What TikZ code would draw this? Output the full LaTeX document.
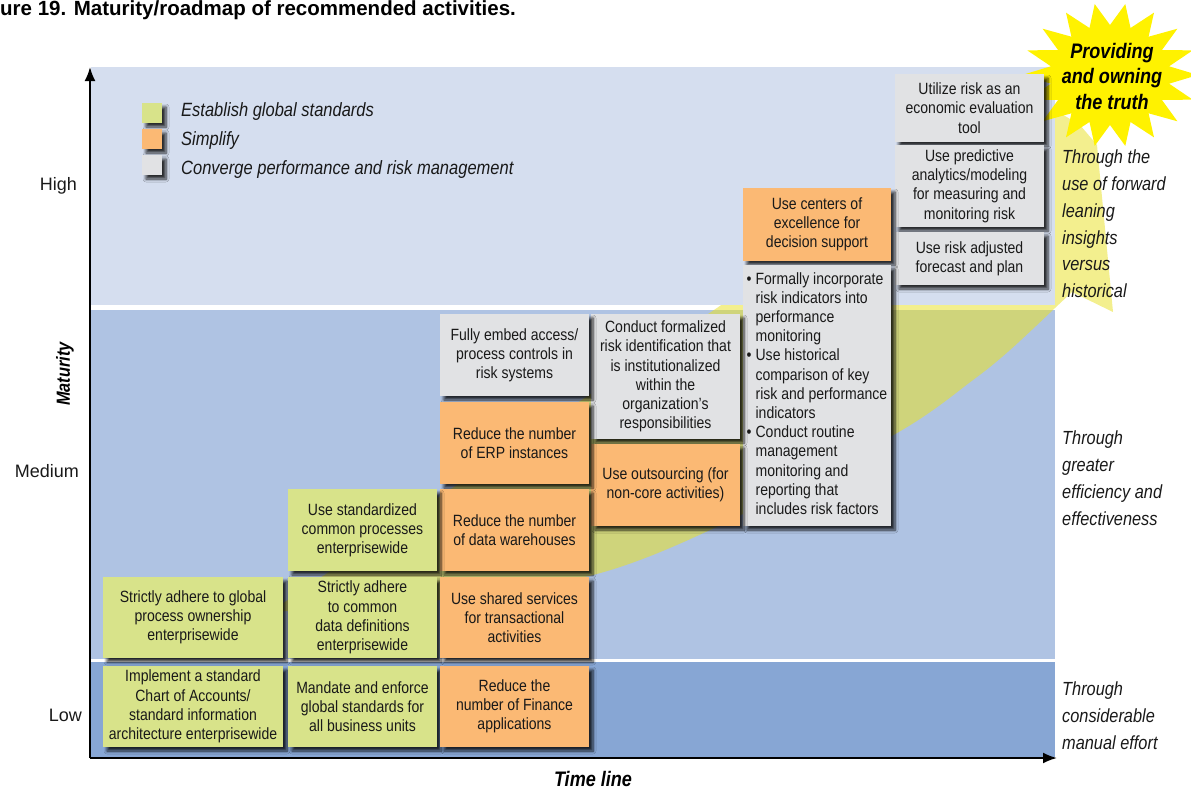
\documentclass[tikz,border=0pt]{standalone}
\usepackage{fontspec}
\setmainfont{Liberation Sans}[FakeStretch=0.86]
\newfontfamily\plainsans{Liberation Sans}
\usetikzlibrary{shadows,shadows.blur,arrows.meta}
\definecolor{bandtop}{HTML}{D5DEEF}
\definecolor{bandmid}{HTML}{AFC3E3}
\definecolor{bandlow}{HTML}{87A6D4}
\definecolor{beamy}{HTML}{F3EF8E}
\definecolor{beamo}{HTML}{CFD47B}
\definecolor{stary}{HTML}{FFF200}
\definecolor{gfill}{HTML}{D8E38A}
\definecolor{ofill}{HTML}{FBB974}
\definecolor{kfill}{HTML}{E1E2E4}
\newcommand\bxfont{\fontsize{16.3}{19.2}\selectfont}
\newcommand\lgfont{\fontsize{19.2}{24}\selectfont\itshape}
\newcommand\rlfont{\fontsize{19}{26.7}\selectfont\itshape}
\newcommand\axfont{\plainsans\fontsize{18}{22}\selectfont}
\newcommand\starfont{\fontsize{21}{25.5}\selectfont\bfseries\itshape}
\tikzset{
  myshadow/.style={blur shadow={shadow xshift=4pt, shadow yshift=-4pt, shadow blur radius=3pt, shadow blur steps=6, shadow opacity=80}},
  box/.style={inner sep=0pt, minimum width=149pt, minimum height=82pt, align=center,
    font=\bxfont, text=black!90, myshadow},
  gbox/.style={box, fill=gfill},
  obox/.style={box, fill=ofill},
  kbox/.style={box, fill=kfill},
  lgsq/.style={inner sep=0pt, minimum size=20pt, myshadow},
  lgtext/.style={anchor=west, inner sep=0pt, font=\lgfont, text=black!90},
  rltext/.style={anchor=north west, inner sep=0pt, align=left, font=\rlfont, text=black!90},
  axlabel/.style={anchor=east, inner sep=0pt, font=\axfont, text=black!90},
  axisline/.style={line width=2pt, -{Latex[length=14pt,width=11pt]}}
}
\begin{document}
\begin{tikzpicture}[x=1pt,y=-1pt]
\useasboundingbox (0,0) rectangle (1191,790);
% light beam
\fill[beamy] (270,612) -- (1030,95) -- (1080,125) -- (1097,145) -- (1113,312) -- (1072,292) -- (1055,308)
  -- plot[smooth] coordinates {(1055,308) (1010,350) (973,380) (897,433) (710,530) (593,575) (440,600) (270,612)} -- cycle;
% bands
\fill[bandtop] (91,67) rectangle (1055,305);
\fill[bandmid] (91,310) rectangle (1055,659);
\begin{scope}
\clip (91,310) rectangle (1055,659);
\fill[beamo] (270,612) -- (1030,95) -- (1080,125) -- (1097,145) -- (1113,312) -- (1072,292) -- (1055,308)
  -- plot[smooth] coordinates {(1055,308) (1010,350) (973,380) (897,433) (710,530) (593,575) (440,600) (270,612)} -- cycle;
\end{scope}
\fill[bandlow] (91,662) rectangle (1055,757);
% star
\fill[stary] (1198,75) \foreach \a in {0,20,...,340}{ -- ({1110+88*cos(\a)},{75+72*sin(\a)}) -- ({1110+60*cos(\a+10)},{75+50*sin(\a+10)}) } -- cycle;
\node[font=\starfont, align=center, inner sep=0pt] (star) at (1112,76) {Providing\\and owning\\the truth};
% axes
\coordinate (origin) at (90,758);
\coordinate (ytop) at (90,67);
\coordinate (xend) at (1057,758);
\draw[axisline] (origin) -- (ytop);
\draw[axisline] (origin) -- (xend);
% title
\node[anchor=base west, inner sep=0pt, font=\plainsans\fontsize{20.5}{24}\selectfont\bfseries] (title) at (0,15) {ure 19. Maturity/roadmap of recommended activities.};
% axis labels
\node[axlabel] (high) at (77,186) {High};
\node[axlabel] (med) at (79,471) {Medium};
\node[axlabel] (low) at (82,715) {Low};
\node[rotate=90, inner sep=0pt, font=\fontsize{19}{22}\selectfont\bfseries\itshape] (mat) at (65,374) {Maturity};
\node[inner sep=0pt, font=\fontsize{21}{24}\selectfont\bfseries\itshape] (tl) at (593,779) {Time line};
% legend
\node[lgsq, fill=gfill] (l1) at (152,113) {};
\node[lgsq, fill=ofill] (l2) at (152,139) {};
\node[lgsq, fill=kfill] (l3) at (152,165) {};
\node[lgtext] (t1) at (181,112) {Establish global standards};
\node[lgtext] (t2) at (181,141) {Simplify};
\node[lgtext] (t3) at (181,170) {Converge performance and risk management};
% right labels
\node[rltext] (r1) at (1062,150) {Through the\\use of forward\\leaning\\insights\\versus\\historical};
\node[rltext] (r2) at (1062,431) {Through\\greater\\efficiency and\\effectiveness};
\node[rltext] (r3) at (1062,682) {Through\\considerable\\manual effort};
% column 6
\node[kbox, minimum height=68pt] (c6a) at (969.5,108) {Utilize risk as an\\economic evaluation\\tool};
\node[kbox, minimum height=82pt] (c6b) at (969.5,186) {Use predictive\\analytics/modeling\\for measuring and\\monitoring risk};
\node[kbox, minimum height=53pt] (c6c) at (969.5,258.5) {Use risk adjusted\\forecast and plan};
% column 5
\node[obox, minimum width=148pt, minimum height=73pt] (c5a) at (817,224.5) {Use centers of\\excellence for\\decision support};
\node[kbox, minimum width=148pt, minimum height=261pt] (c5b) at (817,395.5) {\begin{tabular}{@{}l@{\hspace{4pt}}l@{}}
\textbullet & Formally incorporate\\
 & risk indicators into\\
 & performance\\
 & monitoring\\
\textbullet & Use historical\\
 & comparison of key\\
 & risk and performance\\
 & indicators\\
\textbullet & Conduct routine\\
 & management\\
 & monitoring and\\
 & reporting that\\
 & includes risk factors
\end{tabular}};
% column 4
\node[kbox, minimum height=125pt] (c4a) at (665.5,376.5) {Conduct formalized\\risk identification that\\is institutionalized\\within the\\organization’s\\responsibilities};
\node[obox] (c4b) at (665.5,485) {Use outsourcing (for\\non-core activities)};
% column 3
\node[kbox] (c3a) at (514.5,355) {Fully embed access/\\process controls in\\risk systems};
\node[obox] (c3b) at (514.5,443) {Reduce the number\\of ERP instances};
\node[obox] (c3c) at (514.5,530) {Reduce the number\\of data warehouses};
% column 2
\node[gbox] (c2a) at (362.5,530) {Use standardized\\common processes\\enterprisewide};
% row medium-low
\node[gbox, minimum width=180pt, minimum height=81pt] (c1a) at (193,617.5) {Strictly adhere to global\\process ownership\\enterprisewide};
\node[gbox, minimum height=81pt] (c2b) at (362.5,617.5) {Strictly adhere\\to common\\data definitions\\enterprisewide};
\node[obox, minimum height=81pt] (c3d) at (514.5,617.5) {Use shared services\\for transactional\\activities};
% row low
\node[gbox, minimum width=180pt, minimum height=81pt] (c1b) at (193,706.5) {Implement a standard\\Chart of Accounts/\\standard information\\architecture enterprisewide};
\node[gbox, minimum height=81pt] (c2c) at (362.5,706.5) {Mandate and enforce\\global standards for\\all business units};
\node[obox, minimum height=81pt] (c3e) at (514.5,706.5) {Reduce the\\number of Finance\\applications};
\end{tikzpicture}
\end{document}
